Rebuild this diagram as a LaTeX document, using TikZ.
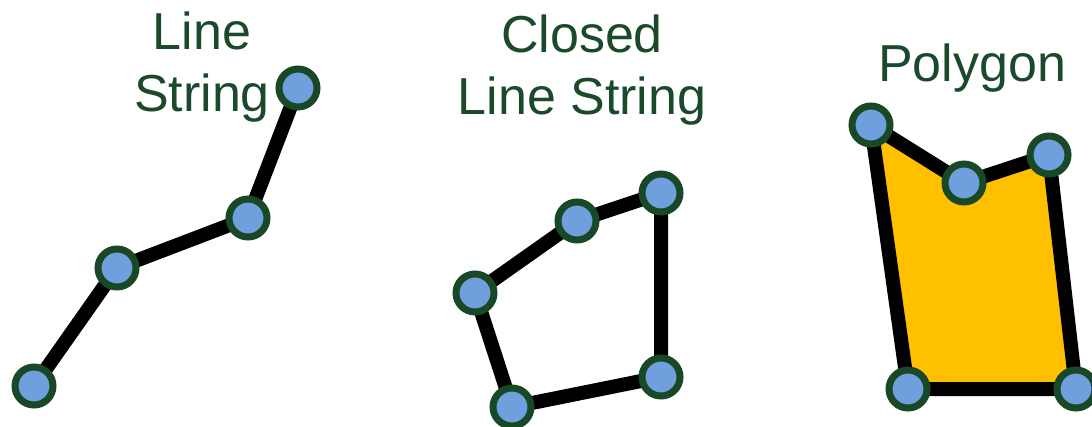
\documentclass[tikz,border=0pt]{standalone}
\usepackage{fontspec}
\setmainfont{Liberation Sans}
\definecolor{titlegreen}{HTML}{1A4A2A}
\definecolor{ringgreen}{HTML}{184826}
\definecolor{vertexblue}{HTML}{6F9FDC}
\definecolor{polyfill}{HTML}{FFC000}
\tikzset{
  title/.style={anchor=base, text=titlegreen, inner sep=0pt,
    font=\fontsize{52}{62}\selectfont},
  vertex/.style={circle, draw=ringgreen, fill=vertexblue, line width=7pt,
    minimum size=38pt, inner sep=0pt},
  edge/.style={draw=black, line width=14pt, line join=round, line cap=round},
}
\begin{document}
\begin{tikzpicture}[x=1pt, y=-1pt]
  \useasboundingbox[fill=white] (0,0) rectangle (1092,427);

  % titles
  \node[title] (t1a) at (202,50) {Line};
  \node[title] (t1b) at (202,112) {String};
  \node[title] (t2a) at (582,53) {Closed};
  \node[title] (t2b) at (582,115) {Line String};
  \node[title] (t3)  at (972,82) {Polygon};

  % vertex positions
  \coordinate (a1) at (34,386);
  \coordinate (a2) at (117,268);
  \coordinate (a3) at (248,218);
  \coordinate (a4) at (298,88);

  \coordinate (b1) at (475,293);
  \coordinate (b2) at (577,221);
  \coordinate (b3) at (661,193);
  \coordinate (b4) at (661,377);
  \coordinate (b5) at (512,407);

  \coordinate (c1) at (871,125);
  \coordinate (c2) at (964,183);
  \coordinate (c3) at (1049,155);
  \coordinate (c4) at (1076,389);
  \coordinate (c5) at (908,389);

  % line string
  \draw[edge] (a1) -- (a2) -- (a3) -- (a4);
  % closed line string
  \draw[edge] (b1) -- (b2) -- (b3) -- (b4) -- (b5) -- cycle;
  % polygon
  \draw[edge, fill=polyfill] (c1) -- (c2) -- (c3) -- (c4) -- (c5) -- cycle;

  % vertices
  \foreach \v in {a1,a2,a3,a4,b1,b2,b3,b4,b5,c1,c2,c3,c4,c5}
    \node[vertex] (n\v) at (\v) {};
\end{tikzpicture}
\end{document}
